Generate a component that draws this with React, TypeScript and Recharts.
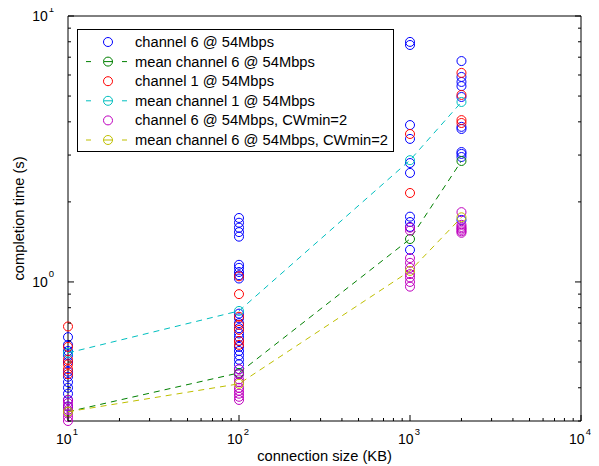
import React from "react";
import { ScatterChart, Scatter, XAxis, YAxis, Legend } from "recharts";

// connection sizes (KB) on the x axis
const sizes = [10, 100, 1000, 2000];

// completion times (s) per connection size
const ch6Times = [
  [0.62, 0.58, 0.55, 0.53, 0.5, 0.46, 0.44, 0.42, 0.4, 0.38, 0.36, 0.34],
  [1.74, 1.67, 1.6, 1.54, 1.48, 1.16, 1.13, 1.09, 1.06, 1.03, 0.76, 0.73, 0.7, 0.67, 0.64, 0.62, 0.6, 0.57, 0.55, 0.53, 0.51, 0.49, 0.47, 0.45],
  [7.99, 7.78, 3.89, 3.45, 2.8, 2.57, 1.76, 1.68, 1.61, 1.32],
  [6.77, 5.9, 5.65, 5.45, 4.96, 3.83, 3.76, 3.08, 3.03, 2.95, 1.71],
];
const ch1Times = [
  [0.68, 0.57, 0.51, 0.49, 0.47, 0.45],
  [1.05, 0.9, 0.74, 0.69, 0.66, 0.6, 0.58],
  [3.6, 2.16],
  [6.11, 5.05, 4.06, 3.96],
];
const cwTimes = [
  [0.36, 0.35, 0.34, 0.33, 0.32, 0.31, 0.3],
  [0.47, 0.45, 0.43, 0.42, 0.4, 0.39, 0.38, 0.37, 0.36],
  [1.6, 1.56, 1.23, 1.18, 1.13, 1.07, 1.04, 1.0, 0.96],
  [1.83, 1.64, 1.61, 1.59, 1.57, 1.55, 1.53],
];
const ch6Mean = [0.325, 0.455, 1.45, 2.85];
const ch1Mean = [0.541, 0.778, 2.87, 4.75];
const cwMean = [0.325, 0.414, 1.1, 1.75];

const xTicks = [10, 20, 30, 40, 50, 60, 70, 80, 90, 100, 200, 300, 400, 500, 600, 700, 800, 900, 1000, 2000, 3000, 4000, 5000, 6000, 7000, 8000, 9000, 10000];
const yTicks = [0.3, 0.4, 0.5, 0.6, 0.7, 0.8, 0.9, 1, 2, 3, 4, 5, 6, 7, 8, 9, 10];

const FONT = "'Liberation Sans', Arial, Helvetica, sans-serif";

const toPoints = (times: number[][]) =>
  times.flatMap((col, i) => col.map((t) => ({ size: sizes[i], time: t })));
const meanPoints = (means: number[]) => means.map((t, i) => ({ size: sizes[i], time: t }));

const series = [
  { name: "channel 6 @ 54Mbps", color: "#0000ff", data: toPoints(ch6Times), mean: false },
  { name: "mean channel 6 @ 54Mbps", color: "#008000", data: meanPoints(ch6Mean), mean: true },
  { name: "channel 1 @ 54Mbps", color: "#ff0000", data: toPoints(ch1Times), mean: false },
  { name: "mean channel 1 @ 54Mbps", color: "#00bfbf", data: meanPoints(ch1Mean), mean: true },
  { name: "channel 6 @ 54Mbps, CWmin=2", color: "#bf00bf", data: toPoints(cwTimes), mean: false },
  { name: "mean channel 6 @ 54Mbps, CWmin=2", color: "#bfbf00", data: meanPoints(cwMean), mean: true },
];

const isMajor = (v: number) => Math.abs(Math.log10(v) - Math.round(Math.log10(v))) < 1e-9;
const tickLen = (v: number) => (isMajor(v) ? 6 : 3);

const ring = (color: string) => (props: any) =>
  <circle cx={props.cx} cy={props.cy} r={4.5} fill="none" stroke={color} strokeWidth={1} />;

// "10" with the exponent raised, like MATLAB's log axis labels
const PowerLabel = ({ x, y, v, anchor }: any) => (
  <text x={x} y={y} textAnchor={anchor} fontSize={14} fontFamily={FONT} fill="#000">
    <tspan>10</tspan>
    <tspan dx={1} dy={-9.5} fontSize={9.5}>{Math.round(Math.log10(v))}</tspan>
  </text>
);

const BottomTick = ({ x, y, payload }: any) => {
  const v = payload.value;
  return (
    <g>
      <line x1={x} y1={y} x2={x} y2={y - tickLen(v)} stroke="#000" />
      {isMajor(v) && <PowerLabel x={x - 1} y={y + 23} v={v} anchor="middle" />}
    </g>
  );
};

const TopTick = ({ x, y, payload }: any) => (
  <line x1={x} y1={y} x2={x} y2={y + tickLen(payload.value)} stroke="#000" />
);

const LeftTick = ({ x, y, payload }: any) => {
  const v = payload.value;
  return (
    <g>
      <line x1={x} y1={y} x2={x + tickLen(v)} y2={y} stroke="#000" />
      {isMajor(v) && <PowerLabel x={x - 14} y={y + 5} v={v} anchor="end" />}
    </g>
  );
};

const RightTick = ({ x, y, payload }: any) => (
  <line x1={x} y1={y} x2={x - tickLen(payload.value)} y2={y} stroke="#000" />
);

const LegendBox = () => (
  <div style={{ width: 317, height: 123, border: "1px solid #000", background: "#fff", boxSizing: "border-box" }}>
    <svg width={315} height={121} style={{ display: "block" }}>
      {series.map((s, i) => {
        const cy = 12 + i * 19.6;
        return (
          <g key={s.name}>
            {s.mean && (
              <>
                <line x1={8} y1={cy} x2={13} y2={cy} stroke={s.color} />
                <line x1={26} y1={cy} x2={35} y2={cy} stroke={s.color} />
                <line x1={44} y1={cy} x2={49} y2={cy} stroke={s.color} />
              </>
            )}
            <circle cx={30} cy={cy} r={4.5} fill="none" stroke={s.color} />
            <text x={57} y={cy + 5} fontSize={14.7} fontFamily={FONT} fill="#000">{s.name}</text>
          </g>
        );
      })}
    </svg>
  </div>
);

export default function App() {
  return (
    <div>
      <style>{"svg.recharts-surface { overflow: visible; }"}</style>
      <ScatterChart width={583} height={458} margin={{ top: 6, right: 8, bottom: 5, left: 10 }}>
        <XAxis
          dataKey="size"
          type="number"
          scale="log"
          domain={[10, 10000]}
          ticks={xTicks}
          interval={0}
          height={40}
          tickSize={0}
          tickMargin={0}
          tickLine={false}
          axisLine={{ stroke: "#000" }}
          tick={<BottomTick />}
          label={{ value: "connection size (KB)", position: "insideBottom", offset: 0, fontSize: 14.7, fontFamily: FONT, fill: "#000" }}
        />
        <XAxis
          xAxisId="top"
          orientation="top"
          type="number"
          scale="log"
          domain={[10, 10000]}
          allowDataOverflow
          ticks={xTicks}
          interval={0}
          height={2}
          tickSize={0}
          tickMargin={0}
          tickLine={false}
          axisLine={{ stroke: "#000" }}
          tick={<TopTick />}
        />
        <YAxis
          dataKey="time"
          type="number"
          scale="log"
          domain={[0.3, 10]}
          ticks={yTicks}
          interval={0}
          width={50}
          tickSize={0}
          tickMargin={0}
          tickLine={false}
          axisLine={{ stroke: "#000" }}
          tick={<LeftTick />}
          label={{ value: "completion time (s)", angle: -90, position: "insideLeft", offset: 1, fontSize: 14.7, fontFamily: FONT, fill: "#000", style: { textAnchor: "middle" } }}
        />
        <YAxis
          yAxisId="right"
          orientation="right"
          type="number"
          scale="log"
          domain={[0.3, 10]}
          allowDataOverflow
          ticks={yTicks}
          interval={0}
          width={2}
          tickSize={0}
          tickMargin={0}
          tickLine={false}
          axisLine={{ stroke: "#000" }}
          tick={<RightTick />}
        />
        <Legend
          layout="vertical"
          align="center"
          verticalAlign="middle"
          wrapperStyle={{ left: 69, top: 21, width: 317, height: 123 }}
          content={() => <LegendBox />}
        />
        {series.map((s) => (
          <Scatter
            key={s.name}
            name={s.name}
            data={s.data}
            fill="none"
            stroke={s.color}
            shape={ring(s.color)}
            line={s.mean ? { stroke: s.color, strokeDasharray: "6 5", strokeWidth: 1 } : false}
            lineType="joint"
            isAnimationActive={false}
          />
        ))}
      </ScatterChart>
    </div>
  );
}
